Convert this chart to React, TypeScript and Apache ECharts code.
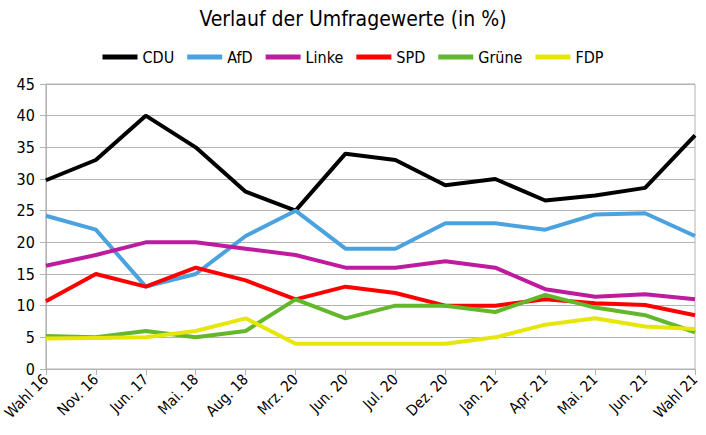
import React, { useEffect, useRef } from "react";
import * as echarts from "echarts";

const categories = ["Wahl 16", "Nov. 16", "Jun. 17", "Mai. 18", "Aug. 18", "Mrz. 20", "Jun. 20", "Jul. 20", "Dez. 20", "Jan. 21", "Apr. 21", "Mai. 21", "Jun. 21", "Wahl 21"];
const cdu = [29.8, 33, 40, 35, 28, 25, 34, 33, 29, 30, 26.6, 27.4, 28.6, 36.9];
const afd = [24.2, 22, 13, 15, 21, 25, 19, 19, 23, 23, 22, 24.4, 24.6, 21];
const linke = [16.3, 18, 20, 20, 19, 18, 16, 16, 17, 16, 12.6, 11.4, 11.8, 11];
const spd = [10.7, 15, 13, 16, 14, 11, 13, 12, 10, 10, 11, 10.4, 10.1, 8.5];
const gruene = [5.2, 5, 6, 5, 6, 11, 8, 10, 10, 9, 11.7, 9.7, 8.5, 5.8];
const fdp = [4.8, 4.9, 5, 6, 8, 4, 4, 4, 4, 5, 7, 8, 6.7, 6.3];

const seriesDefs = [
  { name: "CDU", data: cdu, color: "#000000" },
  { name: "AfD", data: afd, color: "#4aa3df" },
  { name: "Linke", data: linke, color: "#bf1b9e" },
  { name: "SPD", data: spd, color: "#ff0000" },
  { name: "Grüne", data: gruene, color: "#62b82a" },
  { name: "FDP", data: fdp, color: "#e6e60a" },
];

const FONT = "DejaVu Sans Condensed";

export default function App() {
  const ref = useRef<HTMLDivElement>(null);
  useEffect(() => {
    if (!ref.current) return;
    const chart = echarts.init(ref.current, null, { renderer: "svg" });
    chart.setOption({
      animation: false,
      backgroundColor: "#ffffff",
      title: {
        text: "Verlauf der Umfragewerte (in %)",
        left: "center",
        top: 3,
        textStyle: { fontFamily: FONT, fontSize: 21, fontWeight: "normal", color: "#000" },
      },
      legend: {
        top: 44,
        left: "center",
        itemWidth: 35,
        itemHeight: 5,
        itemGap: 13,
        icon: "rect",
        textStyle: { fontFamily: FONT, fontSize: 16, color: "#000" },
        data: seriesDefs.map((s) => s.name),
      },
      grid: {
        left: 44,
        right: 11,
        top: 84,
        bottom: 66,
        show: true,
        borderColor: "#b3b3b3",
        borderWidth: 1,
        backgroundColor: "transparent",
      },
      xAxis: {
        type: "category",
        data: categories,
        boundaryGap: false,
        axisLine: { lineStyle: { color: "#b3b3b3", width: 1 } },
        axisTick: { show: true, length: 6, lineStyle: { color: "#b3b3b3" } },
        axisLabel: {
          rotate: 45,
          fontFamily: FONT,
          fontSize: 15,
          color: "#000",
          margin: 8,
          interval: 0,
        },
        splitLine: { show: false },
      },
      yAxis: {
        type: "value",
        min: 0,
        max: 45,
        interval: 5,
        axisLine: { show: true, lineStyle: { color: "#b3b3b3", width: 1 } },
        axisTick: { show: true, length: 6, lineStyle: { color: "#b3b3b3" } },
        axisLabel: { fontFamily: FONT, fontSize: 16, color: "#000", margin: 11 },
        splitLine: { show: true, lineStyle: { color: "#b3b3b3", width: 1 } },
      },
      series: seriesDefs.map((s) => ({
        name: s.name,
        type: "line",
        data: s.data,
        color: s.color,
        symbol: "none",
        lineStyle: { width: 4, color: s.color },
      })),
    });
    return () => chart.dispose();
  }, []);
  return <div ref={ref} style={{ width: 706, height: 435, position: "absolute", left: 0, top: 0 }} />;
}
